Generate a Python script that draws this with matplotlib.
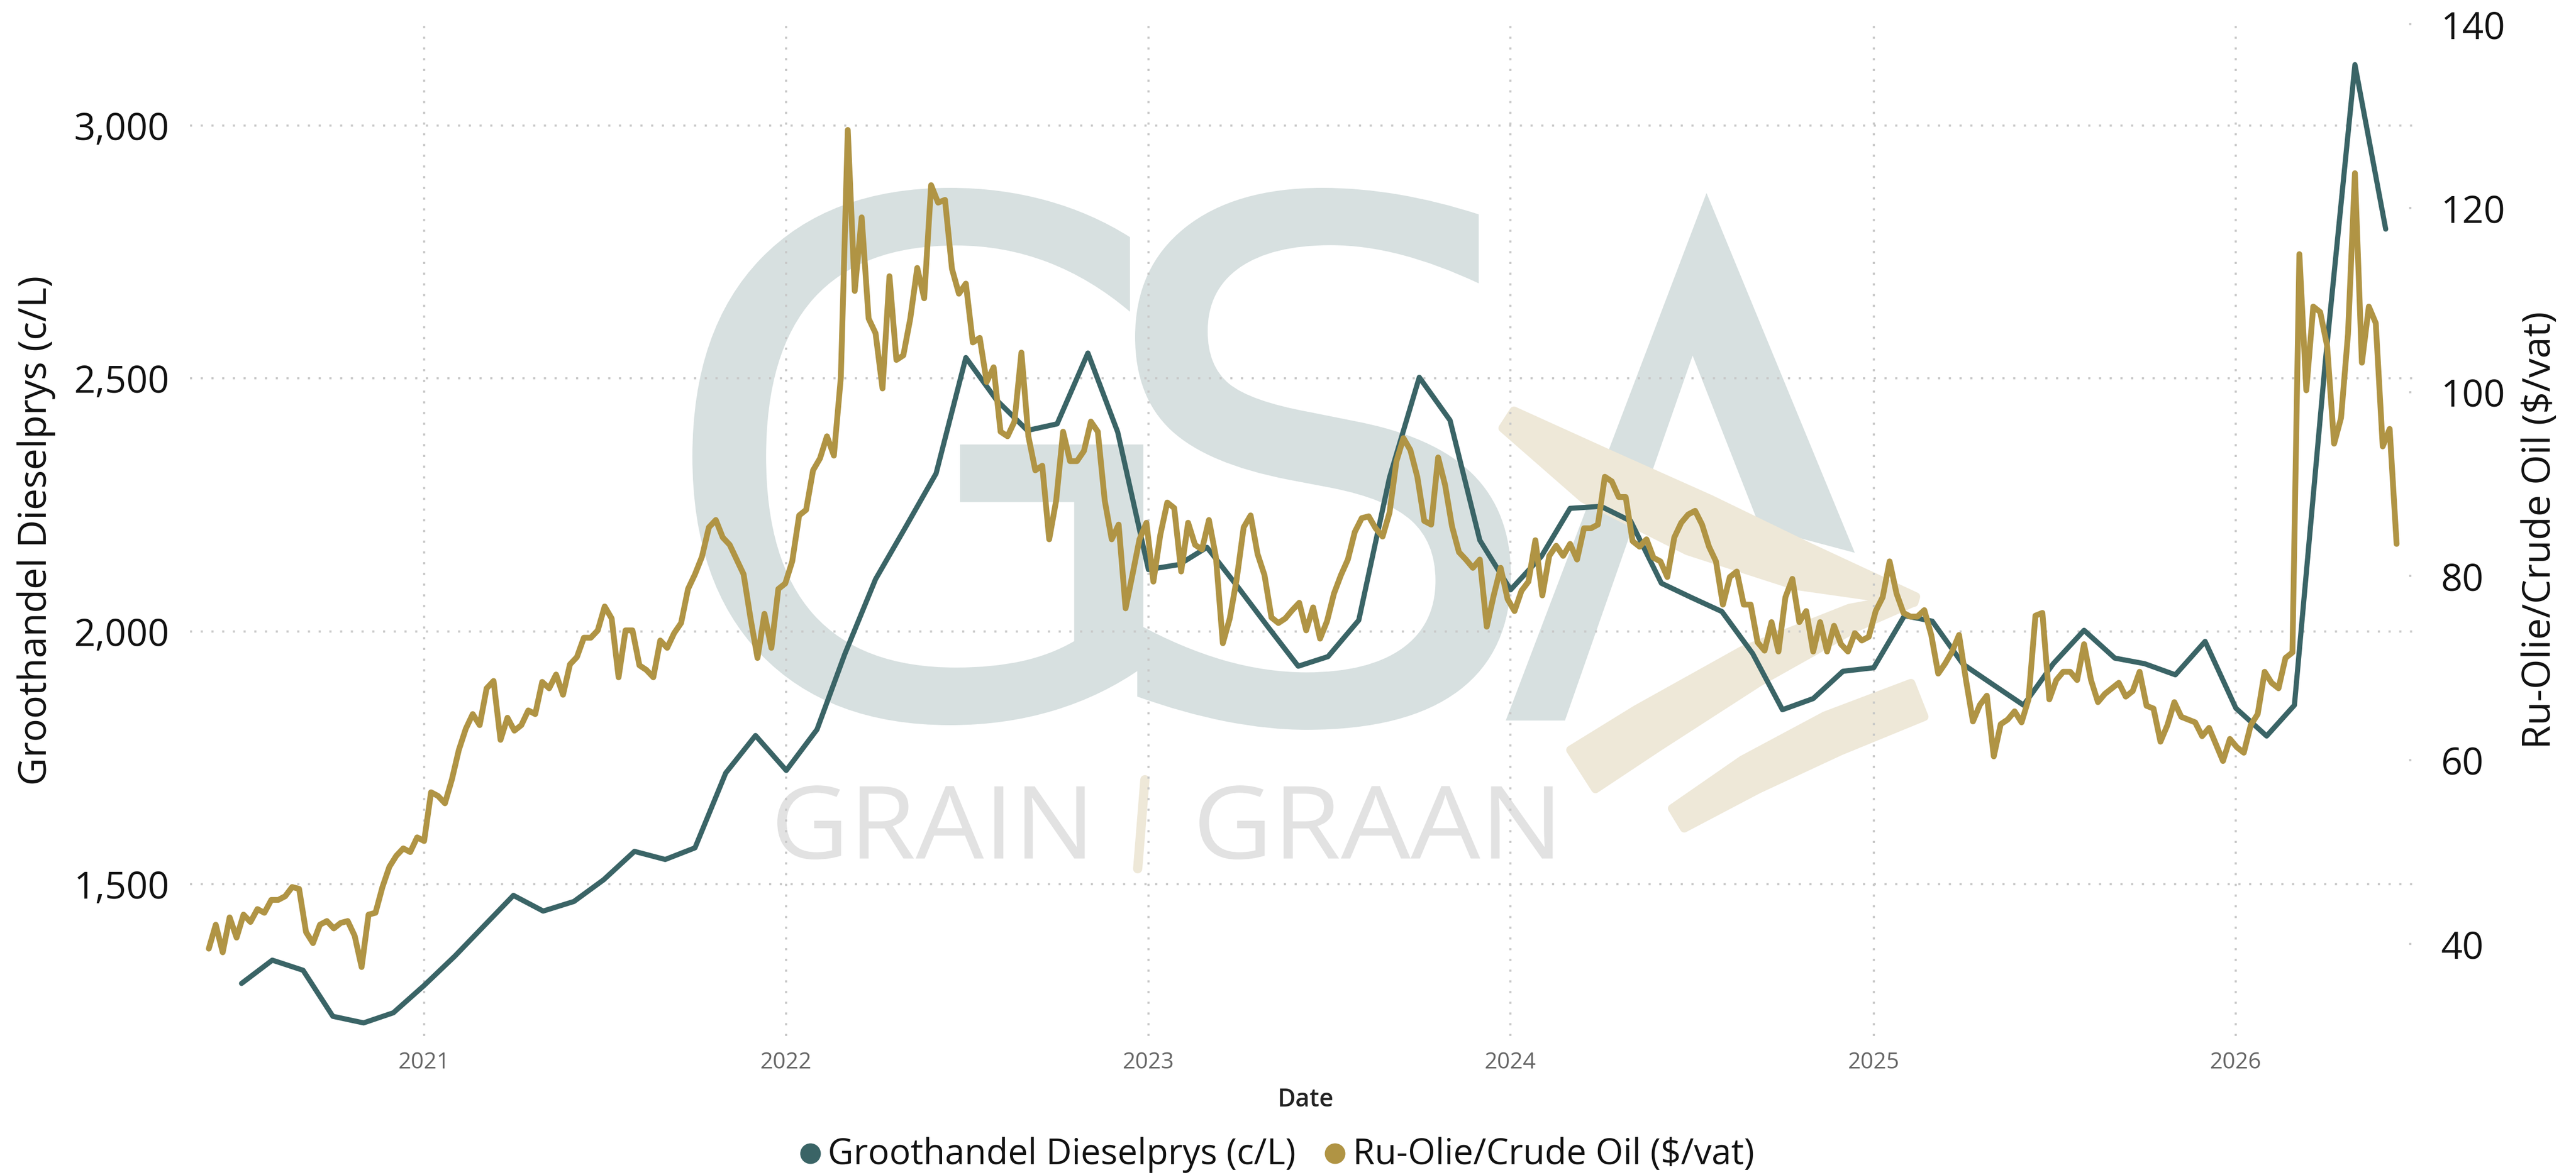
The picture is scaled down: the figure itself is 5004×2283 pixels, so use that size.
import numpy as np
import pandas as pd
import matplotlib
matplotlib.use('Agg')
import matplotlib.pyplot as plt
import matplotlib.dates as mdates
from matplotlib.ticker import FuncFormatter
from matplotlib.textpath import TextPath
from matplotlib.patches import PathPatch, Polygon
from matplotlib.font_manager import FontProperties
from matplotlib.transforms import Affine2D
from matplotlib.lines import Line2D

W, H, DPI = 5004, 2283, 300

# Groothandel dieselprys, maandeliks (c/L)
diesel_maande = pd.date_range('2020-07-01', '2026-06-01', freq='MS')
diesel_prys = [
    1304, 1350, 1330, 1239, 1226, 1246,
    1300, 1358, 1415, 1478, 1447, 1466, 1509, 1565, 1549, 1572, 1720, 1794,
    1725, 1806, 1955, 2103, 2205, 2312, 2541, 2457, 2397, 2410, 2550, 2394,
    2122, 2132, 2166, 2088, 2010, 1931, 1950, 2022, 2304, 2502, 2417, 2180,
    2082, 2148, 2243, 2247, 2218, 2095, 2067, 2039, 1956, 1845, 1867, 1921,
    1928, 2031, 2020, 1935, 1895, 1854, 1936, 2002, 1947, 1936, 1914, 1980,
    1848, 1793, 1854, 2530, 3120, 2795,
]

# Ru-olie, weekliks ($/vat)
olie_weke = pd.date_range('2020-05-29', periods=316, freq='7D')
olie_prys = [
    39.5, 42.1, 39.1, 42.9, 40.7, 43.2, 42.4, 43.8, 43.4, 44.8,
    44.8, 45.2, 46.2, 46.0, 41.3, 40.1, 42.1, 42.5, 41.7, 42.3,
    42.5, 40.9, 37.5, 43.2, 43.4, 46.2, 48.4, 49.6, 50.4, 50.0,
    51.6, 51.2, 56.5, 56.1, 55.3, 57.9, 61.1, 63.4, 65.0, 63.8,
    67.8, 68.6, 62.2, 64.6, 63.2, 63.8, 65.4, 65.0, 68.5, 67.8,
    69.3, 67.1, 70.4, 71.2, 73.3, 73.3, 74.1, 76.7, 75.4, 69.0,
    74.1, 74.1, 70.3, 69.8, 69.0, 73.0, 72.2, 73.8, 74.9, 78.6,
    80.2, 82.1, 85.3, 86.1, 84.2, 83.4, 81.8, 80.2, 75.4, 71.1,
    75.9, 72.2, 78.6, 79.2, 81.6, 86.6, 87.2, 91.5, 92.8, 95.2,
    93.1, 101.6, 128.5, 111.0, 119.0, 108.0, 106.4, 100.4, 112.6, 103.5,
    104.0, 108.0, 113.5, 110.2, 122.5, 120.6, 120.9, 113.4, 110.7, 111.8,
    105.4, 105.9, 101.1, 102.7, 95.7, 95.2, 96.8, 104.3, 95.2, 91.5,
    92.0, 84.0, 88.2, 95.7, 92.5, 92.5, 93.6, 96.8, 95.7, 88.2,
    84.0, 85.6, 76.5, 80.2, 84.0, 85.8, 79.4, 84.5, 88.0, 87.4,
    80.5, 85.8, 83.4, 82.9, 86.1, 82.1, 72.7, 75.4, 79.7, 85.3,
    86.6, 82.4, 80.1, 75.5, 74.9, 75.4, 76.3, 77.1, 74.1, 76.6,
    73.2, 75.1, 78.1, 80.1, 81.8, 84.8, 86.3, 86.5, 85.2, 84.3,
    86.9, 92.5, 95.0, 93.7, 90.8, 86.0, 85.6, 92.9, 89.9, 85.4,
    82.6, 81.8, 80.9, 81.8, 74.5, 77.9, 80.9, 77.5, 76.2, 78.4,
    79.4, 83.9, 77.9, 82.2, 83.3, 82.2, 83.5, 81.8, 85.2, 85.2,
    85.6, 90.8, 90.3, 88.6, 88.6, 83.8, 83.2, 84.0, 82.0, 81.6,
    79.9, 84.2, 85.8, 86.7, 87.1, 85.6, 83.2, 81.6, 76.9, 79.9,
    80.5, 76.9, 76.9, 72.8, 71.9, 75.0, 71.8, 77.7, 79.7, 75.0,
    76.2, 71.8, 75.0, 71.8, 74.6, 72.6, 71.8, 73.8, 73.0, 73.4,
    76.2, 77.7, 81.6, 78.1, 76.0, 75.6, 75.6, 76.3, 73.6, 69.4,
    70.5, 71.8, 73.6, 68.7, 64.2, 66.0, 67.0, 60.4, 63.9, 64.4,
    65.3, 64.1, 66.6, 75.7, 76.0, 66.6, 68.7, 69.6, 69.6, 68.7,
    72.6, 68.7, 66.3, 67.2, 67.8, 68.4, 66.9, 67.5, 69.6, 65.9,
    65.6, 62.0, 63.8, 66.3, 64.7, 64.4, 64.1, 62.6, 63.5, 61.7,
    59.9, 62.3, 61.4, 60.8, 63.8, 65.0, 69.6, 68.4, 67.8, 71.1,
    71.7, 115.0, 100.2, 109.3, 108.7, 105.0, 94.4, 97.2, 106.3, 123.8,
    103.2, 109.3, 107.5, 94.1, 96.0, 83.5,
]

links_ticks = [1500, 2000, 2500, 3000]
regs_ticks = [40, 60, 80, 100, 120, 140]

TEAL = '#3A6466'
GOLD = '#B09444'
WM_BLUE = '#D7E0E0'
WM_GOLD = '#EEE8D8'
WM_GREY = '#E2E2E2'

plt.rcParams['font.family'] = ['Open Sans', 'DejaVu Sans']


def glyph(axb, text, box, color, family, weight='normal'):
    # skaal 'n teks-pad presies in 'n blok (pixels, y na onder)
    x0, y0, x1, y1 = box
    tp = TextPath((0, 0), text, size=100, prop=FontProperties(family=family, weight=weight))
    ext = tp.get_extents()
    tr = (Affine2D().translate(-ext.x0, -ext.y1)
          .scale((x1 - x0) / ext.width, -(y1 - y0) / ext.height)
          .translate(x0, y0))
    axb.add_patch(PathPatch(tr.transform_path(tp), fc=color, ec='none'))


def swoosh(axb, pts, widths, color):
    pts = np.array(pts, float)
    w = np.array(widths, float)
    d = np.gradient(pts, axis=0)
    n = np.stack([-d[:, 1], d[:, 0]], 1)
    n /= np.linalg.norm(n, axis=1)[:, None]
    poly = np.vstack([pts + n * w[:, None] / 2, (pts - n * w[:, None] / 2)[::-1]])
    axb.add_patch(Polygon(poly, closed=True, fc=color, ec=color, lw=4, joinstyle='round'))


fig = plt.figure(figsize=(W / DPI, H / DPI), dpi=DPI)

# watermerk agter die grafiek
bg = fig.add_axes([0, 0, 1, 1], zorder=0)
bg.set_xlim(0, W)
bg.set_ylim(H, 0)
bg.axis('off')
glyph(bg, 'G', (1345, 365, 2221, 1409), WM_BLUE, 'DejaVu Sans')
glyph(bg, 'S', (2205, 365, 2935, 1418), WM_BLUE, 'DejaVu Sans')
bg.add_patch(Polygon([(3315, 375), (3603, 1074), (3419, 1025), (3288, 691),
                      (3040, 1400), (2925, 1400)], closed=True, fc=WM_BLUE, ec='none'))
swoosh(bg, [(2930, 815), (3100, 925), (3300, 1020), (3500, 1100), (3720, 1165)],
       [40, 100, 110, 80, 12], WM_GOLD)
swoosh(bg, [(3075, 1495), (3200, 1415), (3400, 1295), (3600, 1200), (3715, 1165)],
       [90, 85, 70, 40, 12], WM_GOLD)
swoosh(bg, [(3260, 1590), (3400, 1505), (3560, 1425), (3725, 1360)],
       [45, 65, 75, 70], WM_GOLD)
glyph(bg, 'GRAIN', (1510, 1526, 2107, 1670), WM_GREY, 'Open Sans')
glyph(bg, 'GRAAN', (2330, 1526, 3016, 1670), WM_GREY, 'Open Sans')
bg.plot([2224, 2210], [1515, 1688], color=WM_GOLD, lw=4.3, solid_capstyle='round')

ax = fig.add_axes([369 / W, 1 - 2013 / H, (4696 - 369) / W, (2013 - 47) / H], zorder=1)
ax.patch.set_visible(False)
ax2 = ax.twinx()
ax2.set_zorder(2)
ax2.patch.set_visible(False)

ax.plot(diesel_maande, diesel_prys, color=TEAL, lw=2.4,
        solid_joinstyle='round', solid_capstyle='round')
ax2.plot(olie_weke, olie_prys, color=GOLD, lw=2.7,
         solid_joinstyle='round', solid_capstyle='round')

ax.set_xlim(pd.Timestamp('2020-05-10'), pd.Timestamp('2026-07-03'))
ax.set_ylim(1200, 3200)
ax2.set_ylim(30, 140)
ax.set_yticks(links_ticks)
ax2.set_yticks(regs_ticks)
ax.yaxis.set_major_formatter(FuncFormatter(lambda v, p: f'{v:,.0f}'))
ax.xaxis.set_major_locator(mdates.YearLocator())
ax.xaxis.set_major_formatter(mdates.DateFormatter('%Y'))

ax.grid(True, color='#C8C8C8', linestyle=(0, (1, 4)), linewidth=1.0)
ax2.grid(False)
for a in (ax, ax2):
    for s in a.spines.values():
        s.set_visible(False)

ax.tick_params(axis='y', length=0, pad=9.6, labelsize=17.5, labelcolor='#111111')
ax.tick_params(axis='x', length=0, pad=7.2, labelsize=10.5, labelcolor='#666666')
ax2.tick_params(axis='y', length=0, pad=11, labelsize=17.5, labelcolor='#111111')

# kort stippel-merke by die regter-as
for v in regs_ticks:
    ax2.plot([0.9962, 0.9998], [v, v], transform=ax2.get_yaxis_transform(),
             color='#C8C8C8', linestyle=(0, (1, 4)), linewidth=1.0, clip_on=False)

fig.text(70 / W, 1 - 1031 / H, 'Groothandel Dieselprys (c/L)', rotation=90,
         ha='center', va='center', fontsize=18, color='#111111')
fig.text(4935 / W, 1 - 1030 / H, 'Ru-Olie/Crude Oil ($/vat)', rotation=90,
         ha='center', va='center', fontsize=18, color='#111111')
fig.text(2536 / W, 1 - 2137 / H, 'Date', ha='center', va='center',
         fontsize=11.5, fontweight='semibold', color='#222222')

# legende
for mx, tx, kleur, naam in [(1574, 1608, TEAL, 'Groothandel Dieselprys (c/L)'),
                            (2593, 2628, GOLD, 'Ru-Olie/Crude Oil ($/vat)')]:
    fig.add_artist(Line2D([mx / W], [1 - 2241 / H], marker='o', ms=8.6, ls='none',
                          color=kleur, transform=fig.transFigure))
    fig.text(tx / W, 1 - 2262 / H, naam, ha='left', va='baseline',
             fontsize=16.5, color='#111111')

fig.savefig('out.png', dpi=DPI)
